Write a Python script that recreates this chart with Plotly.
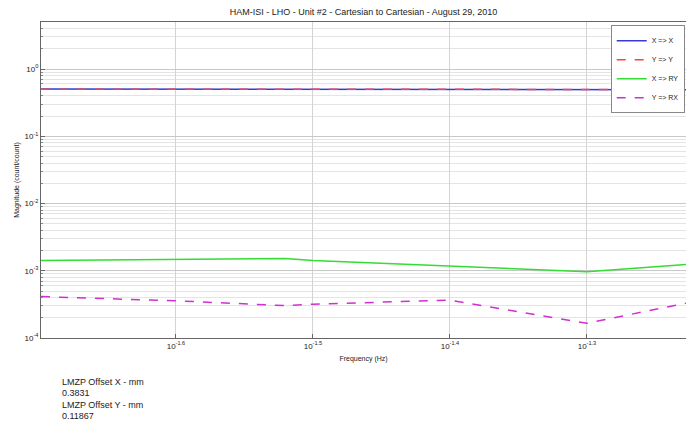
import numpy as np
import plotly.graph_objects as go

# data (log10 frequency positions)
freq_log = [-1.6985, -1.6, -1.5204, -1.5, -1.4, -1.3, -1.2277]
xx_mag = [0.503, 0.503, 0.503, 0.502, 0.501, 0.500, 0.493]
yy_mag = [0.500, 0.500, 0.500, 0.500, 0.500, 0.500, 0.497]
x_ry_mag = [0.001425, 0.001485, 0.001527, 0.001425, 0.001159, 0.000966, 0.001242]
y_rx_mag = [0.000413, 0.000357, 0.000303, 0.000318, 0.000366, 0.0001656, 0.00033]

x_tickvals_log = [-1.6, -1.5, -1.4, -1.3]
x_ticktext = ["10<sup>-1.6</sup>", "10<sup>-1.5</sup>", "10<sup>-1.4</sup>", "10<sup>-1.3</sup>"]
y_tickvals = [1e-4, 1e-3, 1e-2, 1e-1, 1e0]
y_ticktext = ["10<sup>-4</sup>", "10<sup>-3</sup>", "10<sup>-2</sup>", "10<sup>-1</sup>", "10<sup>0</sup>"]

title = "HAM-ISI - LHO - Unit #2 - Cartesian to Cartesian - August 29, 2010"
notes = ["LMZP Offset X - mm", "0.3831", "LMZP Offset Y - mm", "0.11867"]

freq = [10 ** v for v in freq_log]
x_tickvals = [10 ** v for v in x_tickvals_log]
minor_vals = [m * 10 ** e for e in range(-4, 1) for m in range(2, 10)]

fig = go.Figure()
fig.add_trace(go.Scatter(x=freq, y=xx_mag, mode="lines", name="X => X",
                         line=dict(color="#3a3ad0", width=1.5)))
fig.add_trace(go.Scatter(x=freq, y=yy_mag, mode="lines", name="Y => Y",
                         line=dict(color="#ff4040", width=1.5, dash="dash")))
fig.add_trace(go.Scatter(x=freq, y=x_ry_mag, mode="lines", name="X => RY",
                         line=dict(color="#33dd33", width=1.5)))
fig.add_trace(go.Scatter(x=freq, y=y_rx_mag, mode="lines", name="Y => RX",
                         line=dict(color="#d030d0", width=1.5, dash="dash")))

axis_font = dict(family="Arial, Liberation Sans", size=8, color="#222")

fig.update_layout(
    width=686, height=423,
    margin=dict(l=41, r=0, t=22, b=85, autoexpand=False),
    paper_bgcolor="white", plot_bgcolor="white",
    title=dict(text=title, x=0.53, xanchor="center", y=0.972, yanchor="middle",
               font=dict(family="Arial, Liberation Sans", size=9, color="#222")),
    showlegend=True,
    legend=dict(x=0.998, xanchor="right", y=0.99, yanchor="top",
                bgcolor="white", bordercolor="#888", borderwidth=1,
                font=dict(family="Arial, Liberation Sans", size=7, color="#222"),
                tracegroupgap=0, itemwidth=30),
    xaxis=dict(type="log", range=[freq_log[0], freq_log[-1]],
               tickvals=x_tickvals, ticktext=x_ticktext,
               showgrid=True, gridcolor="#d4d4d4", gridwidth=1,
               showline=True, linecolor="#666", mirror=True,
               ticks="inside", ticklen=4, tickcolor="#666",
               tickfont=axis_font, zeroline=False,
               title=dict(text="Frequency (Hz)", font=dict(family="Arial, Liberation Sans", size=7, color="#222"),
                          standoff=6)),
    yaxis=dict(type="log", range=[-4, np.log10(5)],
               tickvals=y_tickvals, ticktext=y_ticktext,
               showgrid=True, gridcolor="#c8c8c8", gridwidth=1,
               showline=True, linecolor="#666", mirror=True,
               ticks="inside", ticklen=4, tickcolor="#666",
               tickfont=axis_font, zeroline=False,
               minor=dict(tickvals=minor_vals, showgrid=True, gridcolor="#e4e4e4",
                          ticks="inside", ticklen=2, tickcolor="#888"),
               title=dict(text="Magnitude (count/count)", font=dict(family="Arial, Liberation Sans", size=7, color="#222"),
                          standoff=4)),
)

for i, t in enumerate(notes):
    fig.add_annotation(text=t, xref="paper", yref="paper", x=(60 - 41) / 645, xanchor="left",
                       y=-(382 + 11.3 * i - 338) / 316, yanchor="middle", showarrow=False,
                       font=dict(family="Arial, Liberation Sans", size=9, color="#222"))

fig.write_html("out.html")
